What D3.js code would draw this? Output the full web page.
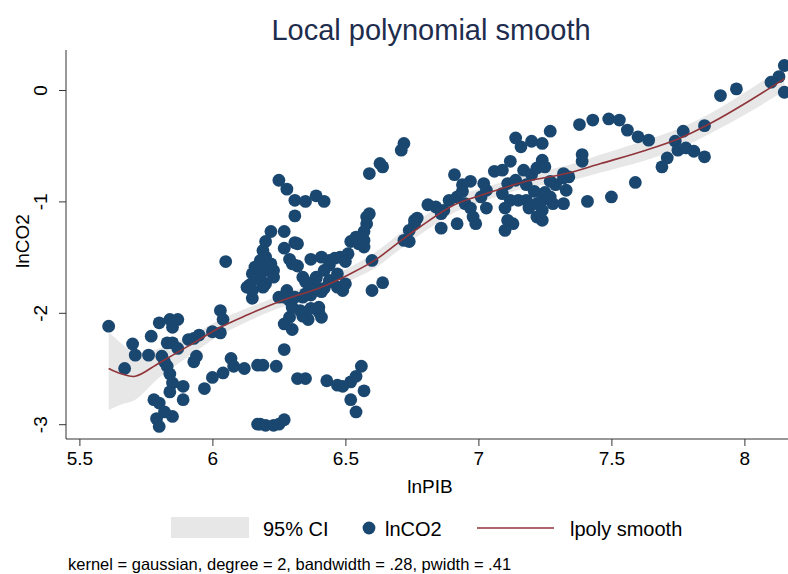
<!DOCTYPE html>
<html lang="en">
<head>
    <meta charset="UTF-8">
    <title>Local polynomial smooth</title>
    <script src="https://d3js.org/d3.v7.min.js"></script>
    <style>
        body { margin: 0; background: #fff; }
        text { font-family: "Liberation Sans", Arial, sans-serif; fill: #000; }
    </style>
</head>
<body>
    <script>
        const width = 788;
        const height = 574;

        // observations (lnPIB, lnCO2)
        const lnPIB = [
            5.61,5.67,5.70,5.71,5.76,5.77,5.80,5.84,5.87,5.85,
            5.83,5.85,5.87,5.81,5.82,5.83,5.84,5.85,5.84,5.89,
            5.89,5.78,5.80,5.82,5.79,5.80,5.85,5.91,5.93,5.95,
            6.00,6.03,5.94,5.93,5.97,6.00,6.04,6.07,6.08,6.12,
            6.03,6.04,6.05,6.17,6.17,6.16,6.14,6.15,6.15,6.25,
            6.28,6.31,6.35,6.39,6.42,6.31,6.59,6.63,6.64,6.22,
            6.20,6.19,6.18,6.17,6.15,6.20,6.22,6.23,6.18,6.20,
            6.27,6.32,6.27,6.29,6.32,6.37,6.13,6.28,6.25,6.29,
            6.34,6.37,6.36,6.39,6.42,6.44,6.48,6.51,6.52,6.54,
            6.57,6.58,6.59,6.60,6.60,6.64,6.47,6.49,6.42,6.44,
            6.39,6.34,6.27,6.30,6.40,6.40,6.27,6.30,6.34,6.36,
            6.27,6.19,6.24,6.32,6.35,6.43,6.47,6.49,6.52,6.54,
            6.56,6.57,6.52,6.54,6.18,6.20,6.23,6.25,6.27,6.76,
            6.72,6.74,6.72,6.71,7.14,7.16,7.20,7.24,7.27,7.38,
            7.43,7.39,7.39,6.91,6.94,6.97,6.94,7.02,7.03,7.01,
            7.06,7.09,7.12,6.81,6.84,6.87,6.89,6.92,6.95,6.97,
            6.98,6.99,7.03,6.77,6.76,6.74,6.86,6.86,6.92,7.11,
            7.14,7.17,7.20,7.22,7.24,7.25,7.18,7.09,7.12,7.10,
            7.11,7.13,7.10,7.15,7.18,7.19,7.21,7.22,7.24,7.24,
            7.22,7.24,7.27,7.28,7.32,7.29,7.32,7.34,7.33,7.41,
            7.49,7.53,7.56,7.60,7.64,7.59,7.50,7.69,7.71,7.74,
            7.75,7.77,7.78,7.81,7.85,7.85,7.91,7.97,8.10,8.13,
            8.15,8.15,7.27,7.32,7.25,6.58,6.57,6.55,6.57,6.41,
            6.46,6.50,6.44,6.47,6.50,6.44,6.19,6.21,6.23,6.19,
            6.16,6.30,6.35,6.39,6.31,6.35,6.41,6.37,6.41,6.29,
            6.33,6.31
        ];
        const lnCO2 = [
            -2.12,-2.50,-2.28,-2.38,-2.38,-2.21,-2.09,-2.06,-2.06,-2.13,
            -2.27,-2.27,-2.32,-2.39,-2.44,-2.48,-2.55,-2.63,-2.71,-2.66,
            -2.78,-2.78,-2.81,-2.89,-2.95,-3.02,-2.93,-2.24,-2.23,-2.20,
            -2.17,-2.18,-2.39,-2.44,-2.68,-2.58,-2.54,-2.41,-2.48,-2.50,
            -1.98,-2.06,-1.54,-2.47,-3.00,-1.59,-1.75,-1.80,-1.87,-0.81,
            -0.89,-0.99,-1.00,-0.95,-1.00,-1.13,-0.75,-0.66,-0.69,-1.27,
            -1.36,-1.44,-1.53,-1.59,-1.65,-1.50,-1.56,-1.62,-1.68,-1.74,
            -1.27,-1.38,-1.42,-1.52,-1.58,-1.52,-1.77,-1.80,-1.86,-1.89,
            -1.86,-1.84,-1.74,-1.68,-1.62,-1.53,-1.50,-1.47,-1.36,-1.32,
            -1.41,-1.14,-1.11,-1.53,-1.80,-1.73,-1.77,-1.80,-1.78,-1.71,
            -1.77,-1.68,-1.86,-1.95,-1.95,-1.99,-2.10,-2.15,-2.03,-2.06,
            -2.33,-2.47,-2.48,-2.59,-2.59,-2.61,-2.65,-2.66,-2.62,-2.57,
            -2.48,-2.70,-2.78,-2.89,-3.00,-3.01,-3.01,-3.00,-2.96,-1.17,
            -1.35,-1.36,-0.48,-0.54,-0.43,-0.51,-0.46,-0.48,-0.37,-0.31,
            -0.27,-0.58,-0.64,-0.76,-0.85,-0.82,-0.91,-0.84,-0.90,-0.96,
            -0.73,-0.72,-0.64,-1.03,-1.05,-1.08,-0.99,-0.96,-1.02,-1.06,
            -1.14,-1.20,-1.06,-1.15,-1.20,-1.26,-1.11,-1.24,-1.20,-0.84,
            -0.81,-0.72,-0.76,-0.70,-0.63,-0.69,-0.85,-0.93,-0.99,-1.06,
            -1.17,-1.20,-1.26,-0.99,-0.99,-1.06,-0.91,-1.02,-0.99,-1.08,
            -1.14,-1.17,-0.96,-1.02,-1.02,-0.85,-0.79,-0.78,-0.90,-1.00,
            -0.26,-0.27,-0.36,-0.42,-0.45,-0.83,-0.96,-0.69,-0.61,-0.46,
            -0.54,-0.37,-0.52,-0.55,-0.60,-0.32,-0.05,0.01,0.07,0.12,
            0.22,-0.02,-0.82,-0.75,-0.92,-1.20,-1.27,-1.38,-1.35,-1.50,
            -1.51,-1.54,-1.57,-1.65,-1.74,-1.72,-1.57,-1.62,-1.68,-1.77,
            -1.70,-1.56,-1.72,-1.69,-1.86,-1.83,-1.81,-1.96,-2.04,-2.04,
            -1.98,-1.37
        ];

        // lpoly smooth and its 95% CI
        const gridX  = [5.61, 5.66, 5.71, 5.80, 5.93, 6.03, 6.13, 6.25, 6.41, 6.51, 6.61, 6.71, 6.78, 6.91, 7.03, 7.18, 7.33, 7.46, 7.63, 7.76, 7.88, 8.01, 8.15];
        const smooth = [-2.50, -2.55, -2.57, -2.45, -2.27, -2.13, -2.02, -1.90, -1.77, -1.66, -1.53, -1.35, -1.23, -1.03, -0.93, -0.82, -0.75, -0.66, -0.54, -0.43, -0.29, -0.11, 0.10];
        const ciHigh = [-2.17, -2.28, -2.36, -2.32, -2.19, -2.06, -1.96, -1.85, -1.71, -1.60, -1.46, -1.28, -1.16, -0.96, -0.87, -0.76, -0.68, -0.58, -0.45, -0.34, -0.20, -0.01, 0.21];
        const ciLow  = [-2.87, -2.82, -2.78, -2.58, -2.36, -2.20, -2.08, -1.96, -1.83, -1.72, -1.60, -1.42, -1.30, -1.10, -0.99, -0.88, -0.82, -0.74, -0.63, -0.52, -0.38, -0.21, -0.01];

        const xTicks = [5.5, 6, 6.5, 7, 7.5, 8];
        const yTicks = [-3, -2, -1, 0];

        const navy = "#1a476f";
        const maroon = "#90353b";
        const ciFill = "#e7e7e7";

        const plotLeft = 66, plotRight = 788, plotTop = 50, plotBottom = 439;

        const svg = d3.select("body")
            .append("svg")
            .attr("width", width)
            .attr("height", height);

        const x = d3.scaleLinear().domain([5.5, 8]).range([79.4, 744.4]);
        const y = d3.scaleLinear().domain([-3, 0]).range([424.2, 90]);

        const band = gridX.map((d, i) => ({ x: d, y: smooth[i], lo: ciLow[i], hi: ciHigh[i] }));

        // CI band
        svg.append("path")
            .datum(band)
            .attr("fill", ciFill)
            .attr("d", d3.area()
                .x(d => x(d.x))
                .y0(d => y(d.lo))
                .y1(d => y(d.hi))
                .curve(d3.curveCatmullRom));

        // scatter
        const pts = lnPIB.map((d, i) => ({ x: d, y: lnCO2[i] }));
        svg.append("g")
            .selectAll("circle")
            .data(pts)
            .enter().append("circle")
            .attr("cx", d => x(d.x))
            .attr("cy", d => y(d.y))
            .attr("r", 6.4)
            .attr("fill", navy);

        // smooth line
        svg.append("path")
            .datum(band)
            .attr("fill", "none")
            .attr("stroke", maroon)
            .attr("stroke-width", 1.6)
            .attr("d", d3.line()
                .x(d => x(d.x))
                .y(d => y(d.y))
                .curve(d3.curveCatmullRom));

        // axes (plain hyphen for negatives, like the original)
        const fmt = d => String(d);

        const xAxis = svg.append("g")
            .attr("transform", `translate(0,${plotBottom})`)
            .call(d3.axisBottom(x).tickValues(xTicks).tickSize(7).tickPadding(6).tickFormat(fmt));
        xAxis.select(".domain").remove();
        xAxis.selectAll("text").attr("font-size", 19).attr("fill", "#000");
        xAxis.selectAll("line").attr("stroke", "#333");

        const yAxis = svg.append("g")
            .attr("transform", `translate(${plotLeft},0)`)
            .call(d3.axisLeft(y).tickValues(yTicks).tickSize(7).tickFormat(fmt));
        yAxis.select(".domain").remove();
        yAxis.selectAll("line").attr("stroke", "#333");
        yAxis.selectAll("text")
            .attr("x", null)
            .attr("dy", null)
            .attr("text-anchor", "middle")
            .attr("transform", "translate(-19.5,0) rotate(-90)")
            .attr("font-size", 19)
            .attr("fill", "#000");

        svg.append("line")
            .attr("x1", plotLeft).attr("x2", plotRight)
            .attr("y1", plotBottom).attr("y2", plotBottom)
            .attr("stroke", "#333");
        svg.append("line")
            .attr("x1", plotLeft).attr("x2", plotLeft)
            .attr("y1", plotTop).attr("y2", plotBottom)
            .attr("stroke", "#333");

        // titles
        svg.append("text")
            .attr("x", 431).attr("y", 39.5)
            .attr("text-anchor", "middle")
            .attr("font-size", 29)
            .style("fill", "#1e2d4d")
            .text("Local polynomial smooth");

        svg.append("text")
            .attr("x", 430).attr("y", 493)
            .attr("text-anchor", "middle")
            .attr("font-size", 19)
            .text("lnPIB");

        svg.append("text")
            .attr("transform", "translate(28.5,241) rotate(-90)")
            .attr("text-anchor", "middle")
            .attr("font-size", 19)
            .text("lnCO2");

        // legend
        const leg = svg.append("g");
        leg.append("rect")
            .attr("x", 171).attr("y", 517)
            .attr("width", 78).attr("height", 21)
            .attr("fill", ciFill);
        leg.append("text").attr("x", 263).attr("y", 535.5).attr("font-size", 20).text("95% CI");
        leg.append("circle").attr("cx", 369).attr("cy", 528).attr("r", 6.4).attr("fill", navy);
        leg.append("text").attr("x", 385).attr("y", 535.5).attr("font-size", 20).text("lnCO2");
        leg.append("line")
            .attr("x1", 477).attr("x2", 554)
            .attr("y1", 528).attr("y2", 528)
            .attr("stroke", maroon).attr("stroke-width", 1.6);
        leg.append("text").attr("x", 570).attr("y", 535.5).attr("font-size", 20).text("lpoly smooth");

        // note
        svg.append("text")
            .attr("x", 68).attr("y", 569.5)
            .attr("font-size", 16.5)
            .text("kernel = gaussian, degree = 2, bandwidth = .28, pwidth = .41");
    </script>
</body>
</html>
